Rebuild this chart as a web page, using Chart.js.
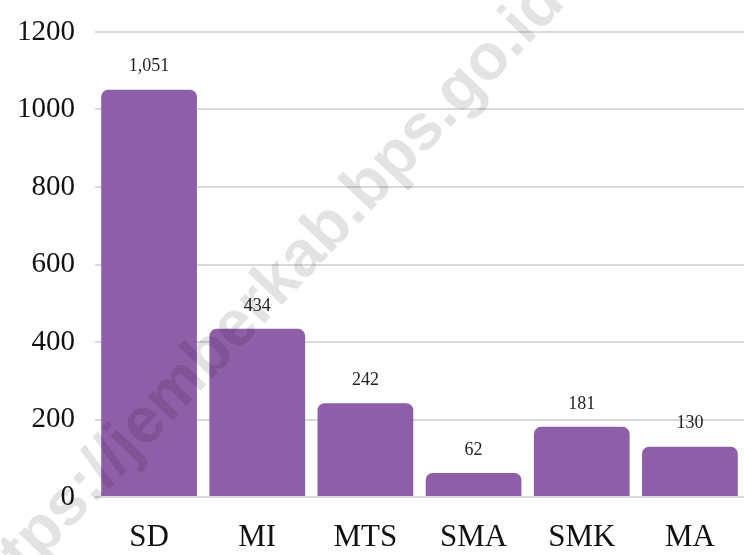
<!DOCTYPE html>
<html>
<head>
<meta charset="utf-8">
<script src="https://cdn.jsdelivr.net/npm/chart.js@4"></script>
<style>
  html, body { margin: 0; padding: 0; background: #fff; }
  #wrap { width: 744px; height: 555px; position: relative; }
</style>
</head>
<body>
<div id="wrap"><canvas id="chart"></canvas></div>
<script>
const categories = ['SD', 'MI', 'MTS', 'SMA', 'SMK', 'MA'];
const values = [1051, 434, 242, 62, 181, 130];
const valueLabels = ['1,051', '434', '242', '62', '181', '130'];
const yTicks = [0, 200, 400, 600, 800, 1000, 1200];

const serif = '"Liberation Serif", "DejaVu Serif", serif';

// angka di atas batang
const barLabels = {
    id: 'barLabels',
    afterDatasetsDraw(chart) {
        const ctx = chart.ctx;
        const meta = chart.getDatasetMeta(0);
        ctx.save();
        ctx.font = '18px ' + serif;
        ctx.fillStyle = '#222';
        ctx.textAlign = 'center';
        ctx.textBaseline = 'middle';
        meta.data.forEach((bar, i) => {
            ctx.fillText(valueLabels[i], bar.x, bar.y - 23);
        });
        ctx.restore();
    }
};

// watermark miring
const watermark = {
    id: 'watermark',
    afterDraw(chart) {
        const ctx = chart.ctx;
        ctx.save();
        ctx.translate(262, 300);
        ctx.rotate(-46.6 * Math.PI / 180);
        ctx.font = 'bold 65px "Liberation Sans", Arial, sans-serif';
        ctx.fillStyle = 'rgba(0, 0, 0, 0.11)';
        ctx.textAlign = 'center';
        ctx.textBaseline = 'middle';
        ctx.fillText('https://jemberkab.bps.go.id', 0, 0);
        ctx.restore();
    }
};

new Chart(document.getElementById('chart'), {
    type: 'bar',
    data: {
        labels: categories,
        datasets: [{
            data: values,
            backgroundColor: '#8f5ea8',
            borderRadius: { topLeft: 7, topRight: 7 },
            borderSkipped: 'bottom',
            categoryPercentage: 1.0,
            barPercentage: 0.885
        }]
    },
    options: {
        responsive: true,
        maintainAspectRatio: false,
        animation: false,
        layout: { padding: { top: 32, right: 0, left: 0, bottom: 0 } },
        plugins: {
            legend: { display: false },
            tooltip: { enabled: false }
        },
        scales: {
            x: {
                grid: { display: false },
                border: { display: false },
                ticks: {
                    color: '#111',
                    font: { family: serif, size: 31 },
                    padding: 14
                },
                afterFit: scale => { scale.height = 58; }
            },
            y: {
                min: 0,
                max: 1200,
                afterBuildTicks: scale => {
                    scale.ticks = yTicks.map(v => ({ value: v }));
                },
                grid: { color: '#d9d9d9', lineWidth: 2, drawTicks: false },
                border: { display: false },
                ticks: {
                    color: '#111',
                    font: { family: serif, size: 29 },
                    padding: 20,
                    callback: v => String(v)
                },
                afterFit: scale => {
                    scale.width = 95;
                    scale.paddingTop = 0;
                    scale.paddingBottom = 0;
                }
            }
        }
    },
    plugins: [barLabels, watermark]
});
</script>
</body>
</html>
